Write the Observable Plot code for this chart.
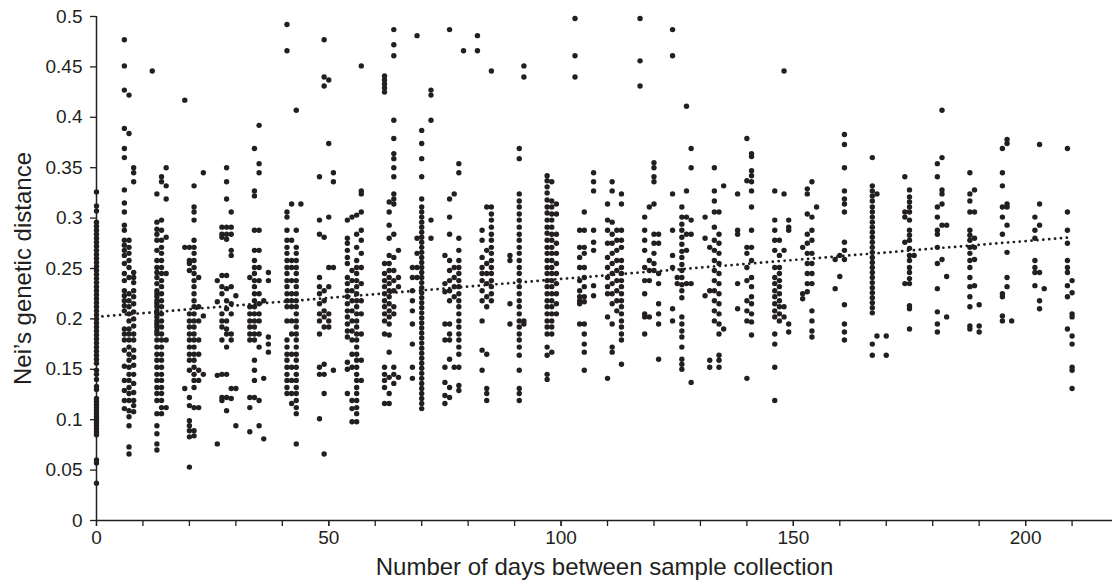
<!DOCTYPE html>
<html>
<head>
<meta charset="utf-8">
<script src="https://cdn.jsdelivr.net/npm/d3@7"></script>
<script src="https://cdn.jsdelivr.net/npm/@observablehq/plot@0.6"></script>
<style>
  html, body { margin: 0; padding: 0; background: #fff; }
  #chart svg { display: block; }
</style>
</head>
<body>
<div id="chart"></div>
<script>
// ---- Data ----
const xLabel = "Number of days between sample collection";
const yLabel = "Nei\u2019s genetic distance";

const xMajorTicks = [0, 50, 100, 150, 200];
const xMinorTicks = [0, 10, 20, 30, 40, 50, 60, 70, 80, 90, 100, 110, 120, 130, 140, 150, 160, 170, 180, 190, 200, 210];
const yTicks = [0, 0.05, 0.1, 0.15, 0.2, 0.25, 0.3, 0.35, 0.4, 0.45, 0.5];
const yTickLabels = ["0", "0.05", "0.1", "0.15", "0.2", "0.25", "0.3", "0.35", "0.4", "0.45", "0.5"];

// dotted trend line end points
const trendDays = [0, 210];
const trendValues = [0.202, 0.281];

// days of each column of points
const columnDays = [
  0, 6, 7, 8, 12, 13, 14, 15, 19, 20, 21, 22, 23, 26, 27, 28, 29, 30,
  33, 34, 35, 36, 37, 41, 42, 43, 44, 48, 49, 50, 51, 54, 55, 56, 57,
  62, 63, 64, 65, 68, 69, 70, 72, 75, 76, 77, 78, 79, 82, 83, 84, 85,
  89, 91, 92, 97, 98, 99, 103, 104, 105, 107, 110, 111, 112, 113,
  117, 118, 119, 120, 121, 124, 125, 126, 127, 128, 131, 132, 133, 134, 135,
  138, 140, 141, 146, 147, 148, 149, 152, 153, 154, 155, 159, 160, 161,
  167, 168, 170, 174, 175, 176, 181, 182, 183, 188, 189, 190,
  195, 196, 197, 202, 203, 204, 209, 210
];

// genetic distances in each column (same order as columnDays)
const columnValues = [
  /* 0 */ [0.326,0.312,0.307,0.296,0.292,0.288,0.284,0.280,0.276,0.272,0.268,0.264,0.260,0.256,0.252,0.248,0.244,0.240,0.236,0.232,0.228,0.224,0.220,0.216,0.212,0.208,0.204,0.200,0.196,0.192,0.188,0.184,0.180,0.176,0.172,0.168,0.164,0.160,0.156,0.149,0.145,0.140,0.133,0.130,0.121,0.118,0.115,0.112,0.109,0.106,0.103,0.100,0.097,0.094,0.091,0.088,0.085,0.060,0.057,0.037],
  /* 6 */ [0.477,0.451,0.427,0.389,0.369,0.360,0.328,0.315,0.306,0.293,0.288,0.278,0.273,0.268,0.263,0.255,0.245,0.238,0.228,0.223,0.218,0.213,0.208,0.190,0.185,0.179,0.169,0.153,0.139,0.129,0.119,0.111],
  /* 7 */ [0.422,0.384,0.278,0.271,0.265,0.258,0.251,0.241,0.225,0.218,0.212,0.205,0.198,0.190,0.185,0.179,0.172,0.165,0.159,0.152,0.145,0.139,0.132,0.126,0.119,0.109,0.103,0.094,0.073,0.066],
  /* 8 */ [0.350,0.345,0.336,0.246,0.241,0.236,0.228,0.222,0.215,0.207,0.200,0.193,0.185,0.179,0.169,0.162,0.154,0.145,0.136,0.127,0.119,0.114,0.108],
  /* 12 */ [0.446],
  /* 13 */ [0.324,0.296,0.289,0.284,0.278,0.268,0.258,0.251,0.246,0.241,0.235,0.228,0.225,0.222,0.218,0.215,0.212,0.208,0.205,0.202,0.198,0.195,0.192,0.188,0.185,0.179,0.172,0.165,0.159,0.152,0.145,0.139,0.132,0.126,0.119,0.106,0.094,0.086,0.076,0.070],
  /* 14 */ [0.341,0.336,0.298,0.288,0.278,0.271,0.265,0.258,0.251,0.245,0.238,0.232,0.225,0.218,0.212,0.205,0.198,0.192,0.185,0.179,0.172,0.165,0.159,0.152,0.145,0.139,0.132,0.126,0.119,0.112,0.106],
  /* 15 */ [0.350,0.332,0.319,0.281,0.245,0.179,0.112],
  /* 19 */ [0.417,0.271,0.131],
  /* 20 */ [0.271,0.258,0.255,0.248,0.205,0.198,0.192,0.185,0.179,0.172,0.165,0.159,0.149,0.122,0.114,0.099,0.094,0.089,0.083,0.053],
  /* 21 */ [0.332,0.311,0.306,0.298,0.278,0.271,0.265,0.258,0.251,0.245,0.238,0.232,0.225,0.218,0.212,0.205,0.198,0.192,0.185,0.179,0.172,0.165,0.159,0.152,0.145,0.139,0.132,0.112,0.089,0.084],
  /* 22 */ [0.241,0.212,0.198,0.179,0.165,0.149,0.139,0.112],
  /* 23 */ [0.345,0.203,0.145],
  /* 26 */ [0.238,0.217,0.144,0.076],
  /* 27 */ [0.291,0.284,0.281,0.243,0.232,0.225,0.205,0.198,0.192,0.179,0.145,0.122,0.119],
  /* 28 */ [0.350,0.336,0.319,0.291,0.284,0.279,0.243,0.230,0.218,0.210,0.198,0.190,0.185,0.172,0.145,0.122,0.109],
  /* 29 */ [0.306,0.291,0.284,0.268,0.263,0.232,0.215,0.205,0.185,0.179,0.131,0.121],
  /* 30 */ [0.223,0.131,0.094],
  /* 33 */ [0.241,0.212,0.205,0.198,0.192,0.185,0.179,0.122,0.112,0.088],
  /* 34 */ [0.369,0.327,0.322,0.288,0.268,0.258,0.251,0.245,0.238,0.232,0.225,0.218,0.212,0.205,0.198,0.192,0.185,0.179,0.159,0.149,0.139,0.122],
  /* 35 */ [0.392,0.354,0.345,0.288,0.268,0.251,0.238,0.225,0.215,0.205,0.198,0.185,0.172,0.119,0.094],
  /* 36 */ [0.218,0.141,0.081],
  /* 37 */ [0.246,0.238,0.182,0.175,0.167],
  /* 41 */ [0.492,0.466,0.306,0.301,0.288,0.278,0.271,0.265,0.258,0.251,0.245,0.238,0.232,0.225,0.218,0.212,0.198,0.179,0.172,0.165,0.159,0.152,0.145,0.139,0.132,0.126],
  /* 42 */ [0.314,0.278,0.258,0.251,0.238,0.225,0.218,0.212,0.198,0.185,0.165,0.152,0.139,0.126,0.116],
  /* 43 */ [0.407,0.288,0.271,0.265,0.258,0.251,0.245,0.238,0.232,0.225,0.218,0.212,0.205,0.198,0.192,0.185,0.179,0.172,0.165,0.159,0.152,0.145,0.139,0.132,0.126,0.119,0.112,0.106,0.076],
  /* 44 */ [0.314],
  /* 48 */ [0.341,0.298,0.284,0.241,0.232,0.225,0.215,0.205,0.198,0.185,0.152,0.145,0.101],
  /* 49 */ [0.477,0.440,0.431,0.281,0.228,0.218,0.208,0.202,0.192,0.155,0.145,0.126,0.066],
  /* 50 */ [0.437,0.374,0.301,0.251,0.232,0.205,0.198,0.192],
  /* 51 */ [0.345,0.336,0.251,0.149],
  /* 54 */ [0.298,0.280,0.275,0.268,0.261,0.255,0.241,0.235,0.228,0.222,0.215,0.208,0.202,0.195,0.188,0.182,0.157,0.150,0.126],
  /* 55 */ [0.301,0.248,0.238,0.228,0.218,0.208,0.198,0.188,0.179,0.165,0.152,0.119,0.111,0.098],
  /* 56 */ [0.303,0.284,0.271,0.258,0.251,0.245,0.238,0.232,0.225,0.218,0.212,0.205,0.198,0.192,0.185,0.179,0.172,0.165,0.159,0.152,0.145,0.139,0.132,0.126,0.119,0.112,0.106,0.098],
  /* 57 */ [0.451,0.327,0.324,0.306,0.288,0.278,0.265,0.251,0.235,0.218,0.205,0.185,0.159,0.139],
  /* 62 */ [0.441,0.437,0.433,0.429,0.425,0.255,0.245,0.238,0.232,0.225,0.218,0.212,0.205,0.198,0.185,0.152,0.145,0.139,0.132,0.116],
  /* 63 */ [0.316,0.306,0.293,0.280,0.263,0.255,0.248,0.241,0.235,0.228,0.222,0.215,0.208,0.202,0.195,0.184,0.167,0.142,0.126,0.116],
  /* 64 */ [0.487,0.472,0.461,0.397,0.379,0.364,0.359,0.350,0.341,0.324,0.319,0.314,0.284,0.261,0.248,0.238,0.228,0.212,0.205,0.152,0.145,0.136],
  /* 65 */ [0.268,0.241,0.232,0.142],
  /* 68 */ [0.251,0.241,0.228,0.218,0.208,0.195,0.175,0.152,0.141],
  /* 69 */ [0.481,0.280,0.265,0.251,0.241],
  /* 70 */ [0.387,0.374,0.359,0.341,0.319,0.311,0.306,0.301,0.296,0.291,0.286,0.281,0.276,0.271,0.266,0.261,0.256,0.251,0.246,0.241,0.236,0.231,0.226,0.221,0.216,0.211,0.206,0.201,0.196,0.191,0.186,0.181,0.176,0.171,0.166,0.161,0.156,0.151,0.146,0.141,0.136,0.131,0.126,0.121,0.116,0.111],
  /* 72 */ [0.427,0.422,0.397,0.298,0.280],
  /* 75 */ [0.263,0.235,0.227,0.195,0.179,0.152,0.137,0.124,0.116],
  /* 76 */ [0.487,0.319,0.301,0.284,0.258,0.248,0.238,0.228,0.218,0.195,0.185,0.179,0.160,0.132,0.122],
  /* 77 */ [0.324,0.251,0.241,0.232,0.222,0.152],
  /* 78 */ [0.354,0.345,0.280,0.268,0.258,0.251,0.245,0.238,0.232,0.225,0.218,0.212,0.205,0.198,0.192,0.185,0.179,0.172,0.165,0.152,0.134,0.129],
  /* 79 */ [0.466],
  /* 82 */ [0.481,0.466],
  /* 83 */ [0.288,0.278,0.261,0.251,0.245,0.238,0.228,0.218,0.198,0.169,0.149],
  /* 84 */ [0.311,0.268,0.255,0.245,0.235,0.222,0.212,0.165,0.131,0.126,0.119],
  /* 85 */ [0.446,0.311,0.304,0.298,0.291,0.284,0.278,0.271,0.265,0.258,0.251,0.245,0.238,0.232,0.225,0.218],
  /* 89 */ [0.263,0.258,0.215,0.195],
  /* 91 */ [0.369,0.359,0.324,0.317,0.311,0.304,0.298,0.291,0.284,0.278,0.271,0.265,0.258,0.251,0.245,0.238,0.232,0.225,0.218,0.212,0.205,0.198,0.192,0.185,0.179,0.172,0.164,0.149,0.131,0.126,0.119],
  /* 92 */ [0.451,0.440,0.198,0.195],
  /* 97 */ [0.342,0.337,0.331,0.325,0.318,0.311,0.305,0.298,0.291,0.285,0.278,0.271,0.265,0.258,0.251,0.245,0.238,0.232,0.225,0.218,0.212,0.205,0.198,0.192,0.185,0.172,0.164,0.145,0.140],
  /* 98 */ [0.336,0.317,0.311,0.304,0.298,0.291,0.284,0.278,0.271,0.265,0.258,0.251,0.245,0.238,0.232,0.225,0.218,0.212,0.205,0.198,0.192,0.185,0.167],
  /* 99 */ [0.314,0.304,0.284,0.275,0.265,0.255,0.245,0.235,0.225,0.215,0.205],
  /* 103 */ [0.498,0.461,0.440],
  /* 104 */ [0.288,0.271,0.261,0.251,0.238,0.228,0.222,0.218,0.215,0.195],
  /* 105 */ [0.306,0.288,0.271,0.265,0.251,0.241,0.232,0.222,0.217,0.195,0.185,0.175,0.167,0.149],
  /* 107 */ [0.345,0.336,0.327,0.288,0.276,0.268,0.233,0.223],
  /* 110 */ [0.314,0.298,0.288,0.275,0.261,0.251,0.241,0.232,0.225,0.202,0.141],
  /* 111 */ [0.336,0.327,0.296,0.284,0.275,0.265,0.255,0.245,0.235,0.225,0.215,0.195,0.172,0.167],
  /* 112 */ [0.288,0.278,0.268,0.258,0.248,0.238,0.228,0.218,0.208],
  /* 113 */ [0.324,0.314,0.288,0.278,0.271,0.258,0.251,0.245,0.238,0.232,0.225,0.218,0.212,0.205,0.198,0.192,0.185,0.179,0.155],
  /* 117 */ [0.498,0.456,0.431],
  /* 118 */ [0.301,0.288,0.278,0.268,0.251,0.238,0.225,0.205,0.202,0.185],
  /* 119 */ [0.311,0.258,0.248,0.238,0.202],
  /* 120 */ [0.355,0.350,0.341,0.336,0.314,0.284,0.275,0.265,0.255,0.248],
  /* 121 */ [0.284,0.275,0.245,0.235,0.215,0.205,0.195,0.160],
  /* 124 */ [0.487,0.461,0.324,0.288,0.263,0.251,0.210,0.198],
  /* 125 */ [0.241,0.235],
  /* 126 */ [0.311,0.301,0.294,0.288,0.281,0.274,0.267,0.261,0.254,0.248,0.241,0.234,0.228,0.221,0.202,0.195,0.188,0.182,0.172,0.160,0.155,0.150],
  /* 127 */ [0.411,0.327,0.301,0.284,0.268,0.235],
  /* 128 */ [0.369,0.350,0.298,0.284,0.235,0.137],
  /* 131 */ [0.301,0.280,0.223],
  /* 132 */ [0.271,0.228,0.159,0.152],
  /* 133 */ [0.350,0.327,0.317,0.306,0.291,0.278,0.268,0.258,0.248,0.238,0.228,0.218,0.208,0.198],
  /* 134 */ [0.306,0.284,0.275,0.265,0.255,0.245,0.235,0.225,0.215,0.205,0.195,0.185,0.164,0.159,0.152],
  /* 135 */ [0.332,0.190],
  /* 138 */ [0.324,0.288,0.284,0.235,0.210],
  /* 140 */ [0.379,0.337,0.271,0.265,0.251,0.238,0.218,0.208,0.198,0.141],
  /* 141 */ [0.364,0.361,0.347,0.342,0.336,0.327,0.311,0.288,0.271,0.258,0.241,0.232,0.222,0.215,0.205,0.197,0.184],
  /* 146 */ [0.327,0.298,0.288,0.278,0.268,0.251,0.241,0.235,0.228,0.222,0.215,0.208,0.202,0.185,0.175,0.152,0.119],
  /* 147 */ [0.278,0.263,0.251,0.245,0.238,0.232,0.225,0.218,0.212,0.205,0.198],
  /* 148 */ [0.446,0.324,0.268,0.212,0.202],
  /* 149 */ [0.298,0.291,0.288,0.195,0.187],
  /* 152 */ [0.271,0.225,0.220],
  /* 153 */ [0.329,0.324,0.304,0.284,0.275,0.265,0.255,0.245,0.235,0.227],
  /* 154 */ [0.336,0.301,0.288,0.278,0.265,0.255,0.245,0.235,0.208,0.198,0.188,0.182],
  /* 155 */ [0.311],
  /* 159 */ [0.259,0.230],
  /* 160 */ [0.263,0.242],
  /* 161 */ [0.383,0.373,0.350,0.327,0.319,0.314,0.306,0.276,0.268,0.259,0.214,0.195,0.187,0.179],
  /* 167 */ [0.360,0.332,0.327,0.322,0.317,0.311,0.306,0.301,0.296,0.291,0.286,0.281,0.276,0.271,0.266,0.261,0.256,0.251,0.246,0.241,0.236,0.231,0.226,0.221,0.216,0.211,0.206,0.175,0.164],
  /* 168 */ [0.324,0.183],
  /* 170 */ [0.183,0.164],
  /* 174 */ [0.341,0.306,0.301,0.276,0.235],
  /* 175 */ [0.328,0.321,0.316,0.311,0.306,0.298,0.288,0.283,0.278,0.270,0.263,0.258,0.251,0.246,0.240,0.235,0.213,0.210,0.190],
  /* 176 */ [0.263],
  /* 181 */ [0.354,0.341,0.311,0.301,0.288,0.284,0.271,0.255,0.230,0.207,0.195,0.187],
  /* 182 */ [0.407,0.360,0.328,0.324,0.314,0.293,0.259],
  /* 183 */ [0.293,0.242,0.202],
  /* 188 */ [0.345,0.324,0.317,0.306,0.288,0.283,0.278,0.271,0.265,0.258,0.251,0.241,0.232,0.222,0.212,0.193,0.190],
  /* 189 */ [0.328,0.306,0.280,0.271,0.259,0.233],
  /* 190 */ [0.214,0.193,0.187],
  /* 195 */ [0.369,0.345,0.332,0.311,0.301,0.284,0.225,0.222,0.203,0.198],
  /* 196 */ [0.378,0.374,0.314,0.311,0.293,0.266,0.241,0.232],
  /* 197 */ [0.198],
  /* 202 */ [0.301,0.288,0.280,0.258,0.251,0.246,0.233],
  /* 203 */ [0.373,0.314,0.293,0.246,0.218,0.210],
  /* 204 */ [0.230],
  /* 209 */ [0.369,0.306,0.288,0.275,0.258,0.251,0.246,0.233,0.222,0.190],
  /* 210 */ [0.238,0.226,0.205,0.202,0.183,0.175,0.152,0.149,0.131]
];

// ---- Build table for the library ----
const points = [];
columnDays.forEach((day, i) => {
  (columnValues[i] || []).forEach(v => points.push({day, value: v}));
});
const trend = trendDays.map((d, i) => ({day: d, value: trendValues[i]}));

const ink = "#231f20";

const chart = Plot.plot({
  width: 1113,
  height: 580,
  marginLeft: 96,
  marginRight: 1,
  marginTop: 16,
  marginBottom: 60,
  style: {fontFamily: "'Liberation Sans', Arial, Helvetica, sans-serif", color: ink, background: "#fff"},
  x: {domain: [0, 218.7]},
  y: {domain: [0, 0.5]},
  marks: [
    Plot.axisX({ticks: xMinorTicks, tickSize: 6, tickFormat: () => "", label: null, strokeWidth: 1.3}),
    Plot.axisX({ticks: xMajorTicks, tickSize: 6, tickPadding: 4, fontSize: 19, label: null, strokeWidth: 1.3}),
    Plot.axisY({ticks: yTicks, tickSize: 6, tickPadding: 8, fontSize: 19, label: null, strokeWidth: 1.3,
      tickFormat: d => yTickLabels[yTicks.indexOf(d)]}),
    Plot.ruleY([0], {stroke: ink, strokeWidth: 1.5}),
    Plot.ruleX([0], {stroke: ink, strokeWidth: 1.5}),
    Plot.line(trend, {x: "day", y: "value", stroke: ink, strokeWidth: 2.7, strokeDasharray: "0.1,5.8", strokeLinecap: "round"}),
    Plot.dot(points, {x: "day", y: "value", r: 2.7, fill: ink, stroke: null}),
    Plot.text([xLabel], {frameAnchor: "bottom", dy: 47, fontSize: 24, fill: ink, lineAnchor: "middle", textAnchor: "middle", text: d => d}),
    Plot.text([yLabel], {frameAnchor: "left", dx: -73, rotate: -90, fontSize: 24, fill: ink, lineAnchor: "middle", textAnchor: "middle", text: d => d})
  ]
});
document.getElementById("chart").appendChild(chart);
</script>
</body>
</html>
